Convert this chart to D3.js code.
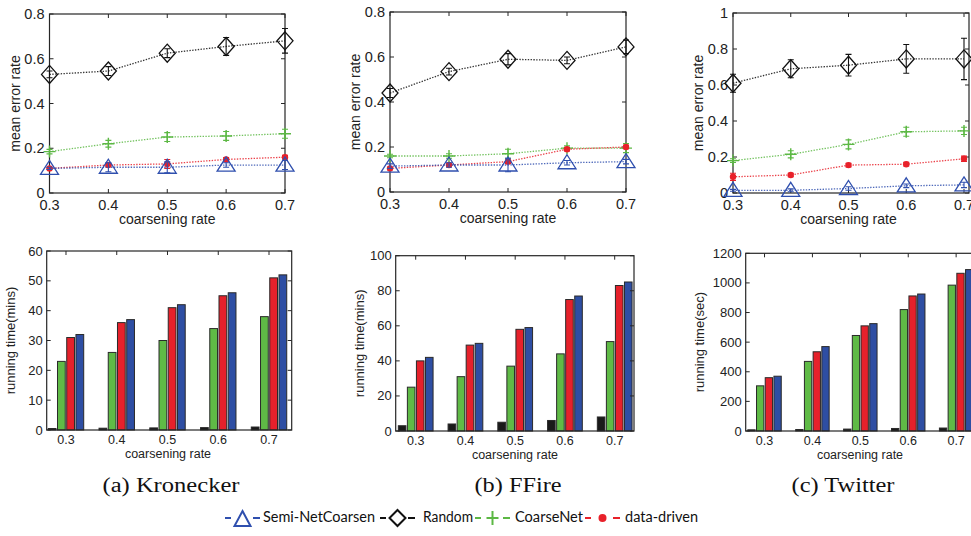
<!DOCTYPE html>
<html><head><meta charset="utf-8">
<script src="https://cdn.jsdelivr.net/npm/d3@7"></script>
<style>body{margin:0;background:#fff}svg{display:block}</style>
</head><body>
<svg id="c" width="971" height="536"></svg>
<script>
// ---------------- DATA ----------------
const rates = [0.3, 0.4, 0.5, 0.6, 0.7];
const rateLabels = ["0.3", "0.4", "0.5", "0.6", "0.7"];
const methods = ["Semi-NetCoarsen", "Random", "CoarseNet", "data-driven"];
const datasets = ["(a)  Kronecker", "(b)  FFire", "(c)  Twitter"];

// mean error rate (top row)
const errKronSemi = [0.110, 0.115, 0.115, 0.125, 0.125];
const errKronRandom = [0.530, 0.545, 0.625, 0.655, 0.680];
const errKronCoarse = [0.185, 0.220, 0.250, 0.255, 0.265];
const errKronData = [0.110, 0.125, 0.130, 0.150, 0.160];
const sdKronSemi = [0.005, 0.020, 0.025, 0.010, 0.020];
const sdKronRandom = [0.015, 0.020, 0.020, 0.040, 0.055];
const sdKronCoarse = [0.010, 0.015, 0.020, 0.020, 0.020];
const sdKronData = [0.004, 0.008, 0.020, 0.008, 0.008];

const errFFSemi = [0.115, 0.120, 0.120, 0.130, 0.135];
const errFFRandom = [0.440, 0.535, 0.590, 0.585, 0.645];
const errFFCoarse = [0.160, 0.160, 0.170, 0.195, 0.195];
const errFFData = [0.105, 0.120, 0.135, 0.190, 0.200];
const sdFFSemi = [0.010, 0.010, 0.030, 0.010, 0.010];
const sdFFRandom = [0.020, 0.015, 0.025, 0.015, 0.030];
const sdFFCoarse = [0.008, 0.010, 0.020, 0.010, 0.020];
const sdFFData = [0.005, 0.005, 0.008, 0.008, 0.008];

const errTwSemi = [0.015, 0.015, 0.025, 0.040, 0.045];
const errTwRandom = [0.610, 0.690, 0.710, 0.745, 0.745];
const errTwCoarse = [0.180, 0.215, 0.270, 0.340, 0.345];
const errTwData = [0.090, 0.100, 0.155, 0.160, 0.190];
const sdTwSemi = [0.005, 0.008, 0.010, 0.010, 0.015];
const sdTwRandom = [0.050, 0.050, 0.060, 0.080, 0.115];
const sdTwCoarse = [0.010, 0.020, 0.025, 0.025, 0.020];
const sdTwData = [0.020, 0.010, 0.010, 0.010, 0.015];

// running time (bottom row)
const timeKronRandom = [0.5, 0.6, 0.7, 0.8, 1.0];
const timeKronCoarse = [23, 26, 30, 34, 38];
const timeKronData = [31, 36, 41, 45, 51];
const timeKronSemi = [32, 37, 42, 46, 52];

const timeFFRandom = [3, 4, 5, 6, 8];
const timeFFCoarse = [25, 31, 37, 44, 51];
const timeFFData = [40, 49, 58, 75, 83];
const timeFFSemi = [42, 50, 59, 77, 85];

const timeTwRandom = [8, 10, 13, 17, 20];
const timeTwCoarse = [305, 470, 645, 820, 985];
const timeTwData = [360, 535, 710, 912, 1065];
const timeTwSemi = [370, 570, 725, 925, 1090];

const topTicksA = [0, 0.2, 0.4, 0.6, 0.8];
const topTicksC = [0, 0.2, 0.4, 0.6, 0.8, 1];
const barTicksA = [0, 10, 20, 30, 40, 50, 60];
const barTicksB = [0, 20, 40, 60, 80, 100];
const barTicksC = [0, 200, 400, 600, 800, 1000, 1200];

// ---------------- STYLE ----------------
const col = {"Semi-NetCoarsen": "#2f4fae", "Random": "#111111", "CoarseNet": "#5cb844", "data-driven": "#e8212a"};
const barCol = {"Semi-NetCoarsen": "#2e4ea3", "Random": "#1a1a1a", "CoarseNet": "#5fba46", "data-driven": "#e6212b"};
const sans = "'Liberation Sans', Arial, sans-serif";
const svg = d3.select("#c");

function frame(g, x0, x1, y0, y1) {
  g.append("rect").attr("x", x0).attr("y", y1).attr("width", x1 - x0).attr("height", y0 - y1)
    .attr("fill", "none").attr("stroke", "#262626").attr("stroke-width", 1.2);
}

function marker(g, name, cx, cy) {
  const c = col[name];
  if (name === "Semi-NetCoarsen") {
    g.append("path").attr("d", `M${cx},${cy - 8}L${cx + 9},${cy + 6}L${cx - 9},${cy + 6}Z`)
      .attr("fill", "none").attr("stroke", c).attr("stroke-width", 1.3);
  } else if (name === "Random") {
    g.append("path").attr("d", `M${cx},${cy - 9}L${cx + 8},${cy}L${cx},${cy + 9}L${cx - 8},${cy}Z`)
      .attr("fill", "none").attr("stroke", c).attr("stroke-width", 1.3);
  } else if (name === "CoarseNet") {
    g.append("path").attr("d", `M${cx - 6},${cy}H${cx + 6}M${cx},${cy - 6}V${cy + 6}`)
      .attr("stroke", c).attr("stroke-width", 1.4);
  } else {
    g.append("circle").attr("cx", cx).attr("cy", cy).attr("r", 3.2).attr("fill", c);
  }
}

function linePanel(cfg) {
  const g = svg.append("g");
  const x = d3.scaleLinear().domain([rates[0], rates[4]]).range([cfg.left, cfg.right]);
  const y = d3.scaleLinear().domain([0, cfg.ymax]).range([cfg.bottom, cfg.top]);
  const xr = cfg.boxRight || cfg.right;
  frame(g, cfg.left, xr, cfg.bottom, cfg.top);
  const yt = g.append("g");
  cfg.yticks.forEach(t => {
    yt.append("line").attr("x1", cfg.left).attr("x2", cfg.left + 4).attr("y1", y(t)).attr("y2", y(t)).attr("stroke", "#262626");
    yt.append("line").attr("x1", xr).attr("x2", xr - 4).attr("y1", y(t)).attr("y2", y(t)).attr("stroke", "#262626");
    yt.append("text").attr("x", cfg.left - 5).attr("y", y(t) + 5).attr("text-anchor", "end")
      .attr("font-family", sans).attr("font-size", 14.5).attr("fill", "#222").text(d3.format("~g")(t));
  });
  rates.forEach((r, i) => {
    g.append("line").attr("x1", x(r)).attr("x2", x(r)).attr("y1", cfg.bottom).attr("y2", cfg.bottom - 4).attr("stroke", "#262626");
    g.append("line").attr("x1", x(r)).attr("x2", x(r)).attr("y1", cfg.top).attr("y2", cfg.top + 4).attr("stroke", "#262626");
    g.append("text").attr("x", x(r)).attr("y", cfg.bottom + 17).attr("text-anchor", "middle")
      .attr("font-family", sans).attr("font-size", 14.5).attr("fill", "#222").text(rateLabels[i]);
  });
  g.append("text").attr("x", (cfg.left + cfg.right) / 2).attr("y", cfg.bottom + 31).attr("text-anchor", "middle")
    .attr("font-family", sans).attr("font-size", 14).attr("fill", "#222").text("coarsening rate");
  g.append("text").attr("transform", `translate(${cfg.ytitleX},${(cfg.top + cfg.bottom) / 2}) rotate(-90)`)
    .attr("text-anchor", "middle").attr("font-family", sans).attr("font-size", 14).attr("fill", "#222").text("mean error rate");

  const order = ["CoarseNet", "data-driven", "Semi-NetCoarsen", "Random"];
  order.forEach(m => {
    const vals = cfg.series[m], sds = cfg.sd[m], c = col[m];
    const line = d3.line().x((d, i) => x(rates[i])).y(d => y(d));
    g.append("path").attr("d", line(vals)).attr("fill", "none").attr("stroke", c)
      .attr("stroke-width", 1.3).attr("stroke-dasharray", "1.4,1.4").attr("opacity", 0.85);
    vals.forEach((v, i) => {
      const cx = x(rates[i]);
      const y1 = y(v + sds[i]), y2 = y(v - sds[i]);
      g.append("path").attr("d", `M${cx},${y1}V${y2}M${cx - 3},${y1}H${cx + 3}M${cx - 3},${y2}H${cx + 3}`)
        .attr("stroke", c).attr("stroke-width", 1.1).attr("fill", "none");
      marker(g, m, cx, y(v));
    });
  });
}

function barPanel(cfg) {
  const g = svg.append("g");
  const x = d3.scaleLinear().domain(cfg.xdom).range([cfg.left, cfg.right]);
  const y = d3.scaleLinear().domain([0, cfg.ymax]).range([cfg.bottom, cfg.top]);
  const barOrder = ["Random", "CoarseNet", "data-driven", "Semi-NetCoarsen"];
  const groupW = 4 / 5.5, slot = groupW / 4;
  barOrder.forEach((m, j) => {
    cfg.series[m].forEach((v, i) => {
      const cxi = (i + 1) + (j - 1.5) * slot;
      const x0 = x(cxi - slot * 0.42), x1 = x(cxi + slot * 0.42);
      g.append("rect").attr("x", x0).attr("y", y(v)).attr("width", x1 - x0).attr("height", y(0) - y(v))
        .attr("fill", barCol[m]).attr("stroke", "#2a2a2a").attr("stroke-width", 1);
    });
  });
  frame(g, cfg.left, cfg.right, cfg.bottom, cfg.top);
  cfg.yticks.forEach(t => {
    g.append("line").attr("x1", cfg.left).attr("x2", cfg.left + 4).attr("y1", y(t)).attr("y2", y(t)).attr("stroke", "#262626");
    g.append("line").attr("x1", cfg.right).attr("x2", cfg.right - 4).attr("y1", y(t)).attr("y2", y(t)).attr("stroke", "#262626");
    g.append("text").attr("x", cfg.left - 4).attr("y", y(t) + 4.5).attr("text-anchor", "end")
      .attr("font-family", sans).attr("font-size", 13).attr("fill", "#222").text(t);
  });
  rates.forEach((r, i) => {
    const cx = x(i + 1);
    g.append("line").attr("x1", cx).attr("x2", cx).attr("y1", cfg.top).attr("y2", cfg.top + 4).attr("stroke", "#262626");
    g.append("text").attr("x", cx).attr("y", cfg.bottom + 14).attr("text-anchor", "middle")
      .attr("font-family", sans).attr("font-size", 12.5).attr("fill", "#222").text(rateLabels[i]);
  });
  g.append("text").attr("x", cfg.titleX).attr("y", cfg.bottom + 28).attr("text-anchor", "middle")
    .attr("font-family", sans).attr("font-size", 12.5).attr("fill", "#222").text("coarsening rate");
  g.append("text").attr("transform", `translate(${cfg.ytitleX},${(cfg.top + cfg.bottom) / 2}) rotate(-90)`)
    .attr("text-anchor", "middle").attr("font-family", sans).attr("font-size", 13).attr("fill", "#222").text(cfg.ytitle);
}

// ---------------- TOP ROW ----------------
linePanel({left: 49.5, right: 285, top: 14, bottom: 193, ymax: 0.8, yticks: topTicksA, ytitleX: 20,
  series: {"Semi-NetCoarsen": errKronSemi, "Random": errKronRandom, "CoarseNet": errKronCoarse, "data-driven": errKronData},
  sd: {"Semi-NetCoarsen": sdKronSemi, "Random": sdKronRandom, "CoarseNet": sdKronCoarse, "data-driven": sdKronData}});
linePanel({left: 390, right: 626, top: 12, bottom: 192, ymax: 0.8, yticks: topTicksA, ytitleX: 360,
  series: {"Semi-NetCoarsen": errFFSemi, "Random": errFFRandom, "CoarseNet": errFFCoarse, "data-driven": errFFData},
  sd: {"Semi-NetCoarsen": sdFFSemi, "Random": sdFFRandom, "CoarseNet": sdFFCoarse, "data-driven": sdFFData}});
linePanel({left: 733, right: 964, boxRight: 969, top: 13, bottom: 193, ymax: 1, yticks: topTicksC, ytitleX: 703,
  series: {"Semi-NetCoarsen": errTwSemi, "Random": errTwRandom, "CoarseNet": errTwCoarse, "data-driven": errTwData},
  sd: {"Semi-NetCoarsen": sdTwSemi, "Random": sdTwRandom, "CoarseNet": sdTwCoarse, "data-driven": sdTwData}});

// ---------------- BOTTOM ROW ----------------
barPanel({left: 46.7, right: 291.7, top: 251, bottom: 430, xdom: [0.62, 5.447], ymax: 60, yticks: barTicksA,
  ytitle: "running time(mins)", ytitleX: 15, titleX: 168,
  series: {"Random": timeKronRandom, "CoarseNet": timeKronCoarse, "data-driven": timeKronData, "Semi-NetCoarsen": timeKronSemi}});
barPanel({left: 395.7, right: 634, top: 255.7, bottom: 431, xdom: [0.598, 5.388], ymax: 100, yticks: barTicksB,
  ytitle: "running time(mins)", ytitleX: 364, titleX: 515,
  series: {"Random": timeFFRandom, "CoarseNet": timeFFCoarse, "data-driven": timeFFData, "Semi-NetCoarsen": timeFFSemi}});
barPanel({left: 745.7, right: 975.3, top: 253.3, bottom: 431, xdom: [0.607, 5.4], ymax: 1200, yticks: barTicksC,
  ytitle: "running time(sec)", ytitleX: 704, titleX: 860,
  series: {"Random": timeTwRandom, "CoarseNet": timeTwCoarse, "data-driven": timeTwData, "Semi-NetCoarsen": timeTwSemi}});

// ---------------- CAPTIONS ----------------
const capX = [171, 518, 843], capW = [137, 87, 103];
datasets.forEach((d, i) => {
  svg.append("text").attr("x", capX[i]).attr("y", 492).attr("text-anchor", "middle")
    .attr("font-family", "'Liberation Serif', 'Times New Roman', serif").attr("font-size", 20).attr("fill", "#111")
    .attr("textLength", capW[i]).attr("lengthAdjust", "spacingAndGlyphs").text(d);
});

// ---------------- LEGEND ----------------
const legX = [225, 380, 475, 585];
const legTextX = [263, 423, 515, 625];
const legTextW = [112, 50, 68, 73];
const leg = svg.append("g");
methods.forEach((m, i) => {
  const x0 = legX[i], c = col[m], cy = 518;
  leg.append("line").attr("x1", x0).attr("x2", x0 + 6).attr("y1", cy).attr("y2", cy).attr("stroke", c).attr("stroke-width", 2);
  leg.append("line").attr("x1", x0 + 28).attr("x2", x0 + 35).attr("y1", cy).attr("y2", cy).attr("stroke", c).attr("stroke-width", 2);
  const mx = x0 + 17.5;
  if (m === "Semi-NetCoarsen") leg.append("path").attr("d", `M${mx},${cy - 7}L${mx + 8},${cy + 8}L${mx - 8},${cy + 8}Z`).attr("fill", "none").attr("stroke", c).attr("stroke-width", 2);
  else if (m === "Random") leg.append("path").attr("d", `M${mx},${cy - 8}L${mx + 8},${cy}L${mx},${cy + 8}L${mx - 8},${cy}Z`).attr("fill", "none").attr("stroke", c).attr("stroke-width", 2);
  else if (m === "CoarseNet") leg.append("path").attr("d", `M${mx - 6},${cy}H${mx + 6}M${mx},${cy - 7}V${cy + 7}`).attr("stroke", c).attr("stroke-width", 2);
  else leg.append("circle").attr("cx", mx).attr("cy", cy).attr("r", 4).attr("fill", c);
  leg.append("text").attr("x", legTextX[i]).attr("y", cy + 4).attr("font-family", "Lato, 'Open Sans', sans-serif")
    .attr("font-size", 14.5).attr("fill", "#111").attr("textLength", legTextW[i]).attr("lengthAdjust", "spacingAndGlyphs").text(m);
});
</script>
</body></html>
